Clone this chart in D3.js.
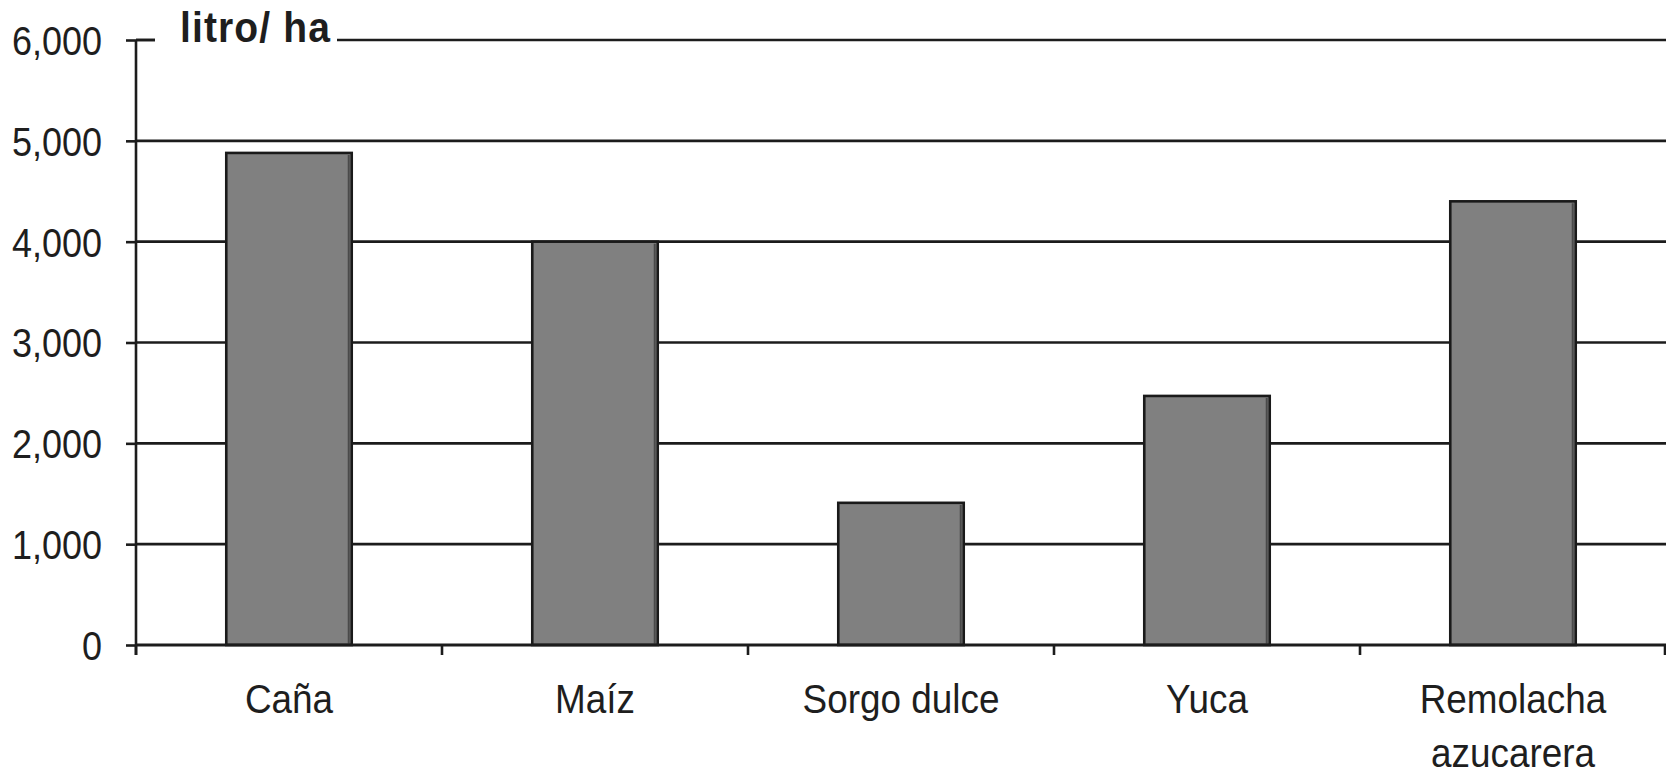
<!DOCTYPE html>
<html>
<head>
<meta charset="utf-8">
<script src="https://cdn.jsdelivr.net/npm/d3@7"></script>
<style>
  html, body { margin: 0; padding: 0; background: #fff; }
  svg { display: block; }
  text { font-family: "Liberation Sans", Arial, sans-serif; fill: #1e1e1e; }
</style>
</head>
<body>
<svg id="chart" width="1666" height="771"></svg>
<script>
// Ethanol yield per hectare by crop
const categories = ["Caña", "Maíz", "Sorgo dulce", "Yuca", "Remolacha\nazucarera"];
const values = [4880, 4000, 1410, 2470, 4400];
const yTicks = [0, 1000, 2000, 3000, 4000, 5000, 6000];
const unitLabel = "litro/ ha";

const plotLeft = 136, plotRight = 1666, plotTop = 40, plotBottom = 645;
const squeeze = 0.9; // narrow glyphs

const svg = d3.select("#chart");

const y = d3.scaleLinear().domain([0, 6000]).range([plotBottom, plotTop]);
const xBoundary = d3.scaleBand().domain(categories).range([plotLeft, plotRight]).padding(0);
const xBar = d3.scaleBand().domain(categories).range([plotLeft, plotRight])
  .paddingInner(0.59).paddingOuter(0.295);

// horizontal gridlines
svg.append("g")
  .selectAll("line")
  .data(yTicks.filter(d => d > 0))
  .join("line")
  .attr("x1", plotLeft).attr("x2", plotRight)
  .attr("y1", d => y(d)).attr("y2", d => y(d))
  .attr("stroke", "#1c1c1c").attr("stroke-width", 2.6);

// unit label interrupting the top gridline
const unitG = svg.append("g");
unitG.append("rect")
  .attr("x", 155).attr("y", y(6000) - 30)
  .attr("width", 182).attr("height", 40)
  .attr("fill", "#fff");
unitG.append("text")
  .attr("transform", `translate(180,${y(6000) + 2}) scale(${squeeze + 0.03},1)`)
  .attr("font-size", 42).attr("font-weight", "bold")
  .attr("letter-spacing", 1.2)
  .text(unitLabel);

// bars
const bars = svg.append("g")
  .selectAll("g")
  .data(categories.map((c, i) => ({ c, v: values[i] })))
  .join("g");
bars.append("rect")
  .attr("x", d => xBar(d.c))
  .attr("y", d => y(d.v))
  .attr("width", xBar.bandwidth())
  .attr("height", d => y(0) - y(d.v))
  .attr("fill", "#808080")
  .attr("stroke", "#1a1a1a")
  .attr("stroke-width", 2.6);
bars.append("line")
  .attr("x1", d => xBar(d.c) + xBar.bandwidth() - 3)
  .attr("x2", d => xBar(d.c) + xBar.bandwidth() - 3)
  .attr("y1", d => y(d.v) + 2)
  .attr("y2", y(0) - 1)
  .attr("stroke", "#4a4a4a").attr("stroke-width", 2);

// y axis
const yAxis = svg.append("g")
  .attr("transform", `translate(${plotLeft},0)`)
  .call(d3.axisLeft(y).tickValues(yTicks).tickSize(10).tickFormat(d3.format(",")));
yAxis.select(".domain").attr("stroke", "#1c1c1c").attr("stroke-width", 2.6)
  .attr("d", `M0,${y(6000)}V${y(0) + 10}`);
yAxis.selectAll(".tick line").attr("stroke", "#1c1c1c").attr("stroke-width", 2.6);
yAxis.selectAll(".tick text")
  .attr("x", -34 / squeeze)
  .attr("dy", "0.36em")
  .attr("transform", `scale(${squeeze},1)`)
  .attr("font-size", 40)
  .attr("font-family", "Liberation Sans, Arial, sans-serif")
  .attr("fill", "#1e1e1e");
// top tick runs into the gridline up to the unit label
yAxis.append("line")
  .attr("x1", 0).attr("x2", 155 - plotLeft)
  .attr("y1", y(6000)).attr("y2", y(6000))
  .attr("stroke", "#1c1c1c").attr("stroke-width", 2.6);

// x axis baseline and category boundary ticks
svg.append("line")
  .attr("x1", plotLeft).attr("x2", plotRight)
  .attr("y1", y(0)).attr("y2", y(0))
  .attr("stroke", "#1c1c1c").attr("stroke-width", 2.8);
const bounds = categories.map(c => xBoundary(c)).concat([xBoundary.range()[1] - 1]);
svg.append("g").selectAll("line")
  .data(bounds)
  .join("line")
  .attr("x1", d => d).attr("x2", d => d)
  .attr("y1", y(0)).attr("y2", y(0) + 10)
  .attr("stroke", "#1c1c1c").attr("stroke-width", 2.6);

// category labels
const labels = svg.append("g")
  .selectAll("text")
  .data(categories)
  .join("text")
  .attr("transform", c => `translate(${xBoundary(c) + xBoundary.bandwidth() / 2},713) scale(${squeeze},1)`)
  .attr("text-anchor", "middle")
  .attr("font-size", 41);
labels.selectAll("tspan")
  .data(c => c.split("\n"))
  .join("tspan")
  .attr("x", 0)
  .attr("y", (d, i) => i * 54)
  .text(d => d);
</script>
</body>
</html>
